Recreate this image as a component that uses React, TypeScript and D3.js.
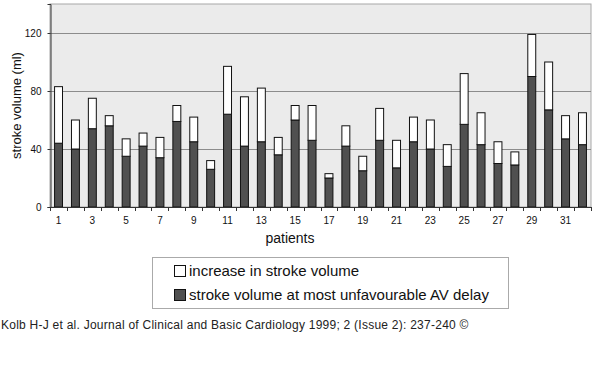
import React, { useEffect, useRef } from 'react';
import * as d3 from 'd3';

// patients 1..32
const patients: number[] = d3.range(1, 33);
// stroke volume at most unfavourable AV delay (ml)
const baseVolume: number[] = [44, 40, 54, 56, 35, 42, 34, 59, 45, 26, 64, 42, 45, 36, 60, 46,
  20, 42, 25, 46, 27, 45, 40, 28, 57, 43, 30, 29, 90, 67, 47, 43];
// increase in stroke volume (ml)
const increaseVolume: number[] = [39, 20, 21, 7, 12, 9, 14, 11, 17, 6, 33, 34, 37, 12, 10, 24,
  3, 14, 10, 22, 19, 17, 20, 15, 35, 22, 15, 9, 29, 33, 16, 22];
const yTicks: number[] = [0, 40, 80, 120];

const FONT = 'Arial, "Liberation Sans", sans-serif';

export default function App() {
  const svgRef = useRef<SVGSVGElement | null>(null);

  useEffect(() => {
    const svg = d3.select(svgRef.current);
    svg.html('');

    const left = 50, right = 591, top = 4, bottom = 207;

    const x = d3.scaleBand<number>().domain(patients).range([left, right]).paddingInner(0.53).paddingOuter(0.27);
    const y = d3.scaleLinear().domain([0, 140]).range([bottom, top]);

    // plot background
    svg.append('rect')
      .attr('x', left).attr('y', top)
      .attr('width', right - left).attr('height', bottom - top)
      .attr('fill', '#ebebeb')
      .attr('stroke', '#a8a8a8').attr('stroke-width', 1);

    // gridlines
    svg.append('g')
      .selectAll('line')
      .data(yTicks.filter(t => t > 0))
      .join('line')
      .attr('x1', left).attr('x2', right)
      .attr('y1', d => Math.round(y(d)) + 0.5).attr('y2', d => Math.round(y(d)) + 0.5)
      .attr('stroke', '#8c8c8c').attr('stroke-width', 1);

    // bars
    const bw = x.bandwidth();
    const g = svg.append('g');
    g.selectAll('rect.base')
      .data(patients)
      .join('rect')
      .attr('class', 'base')
      .attr('x', d => x(d)!)
      .attr('y', (d, i) => y(baseVolume[i]))
      .attr('width', bw)
      .attr('height', (d, i) => bottom - y(baseVolume[i]))
      .attr('fill', '#505050')
      .attr('stroke', '#111').attr('stroke-width', 1);
    g.selectAll('rect.inc')
      .data(patients)
      .join('rect')
      .attr('class', 'inc')
      .attr('x', d => x(d)!)
      .attr('y', (d, i) => y(baseVolume[i] + increaseVolume[i]))
      .attr('width', bw)
      .attr('height', (d, i) => y(baseVolume[i]) - y(baseVolume[i] + increaseVolume[i]))
      .attr('fill', '#ffffff')
      .attr('stroke', '#111').attr('stroke-width', 1);

    // y axis
    const yAxis = svg.append('g')
      .attr('transform', `translate(${left + 0.5},0)`)
      .call(d3.axisLeft(y).tickValues(yTicks).tickSize(3).tickPadding(6));
    yAxis.select('.domain').attr('stroke', '#333');
    yAxis.selectAll('.tick line').attr('stroke', '#333');
    yAxis.selectAll('text').attr('font-family', FONT).attr('font-size', 10).attr('fill', '#111');

    // x axis: ticks at band boundaries, labels on odd patients
    const xg = svg.append('g');
    xg.append('line')
      .attr('x1', left).attr('x2', right)
      .attr('y1', bottom + 0.5).attr('y2', bottom + 0.5)
      .attr('stroke', '#333');
    xg.selectAll('line.tk')
      .data(d3.range(0, patients.length + 1))
      .join('line')
      .attr('class', 'tk')
      .attr('x1', i => Math.round(left + i * (right - left) / patients.length) + 0.5)
      .attr('x2', i => Math.round(left + i * (right - left) / patients.length) + 0.5)
      .attr('y1', bottom).attr('y2', bottom + 4)
      .attr('stroke', '#333');
    xg.selectAll('text')
      .data(patients.filter(p => p % 2 === 1))
      .join('text')
      .attr('x', d => x(d)! + bw / 2)
      .attr('y', bottom + 17)
      .attr('text-anchor', 'middle')
      .attr('font-family', FONT).attr('font-size', 10).attr('fill', '#111')
      .text(d => d);

    // axis titles
    svg.append('text')
      .attr('x', 290).attr('y', 243)
      .attr('text-anchor', 'middle')
      .attr('font-family', FONT).attr('font-size', 14).attr('fill', '#111')
      .text('patients');
    svg.append('text')
      .attr('transform', `translate(21,${(top + bottom) / 2}) rotate(-90)`)
      .attr('text-anchor', 'middle')
      .attr('font-family', FONT).attr('font-size', 13).attr('fill', '#111')
      .text('stroke volume (ml)');

    // legend
    const lg = svg.append('g');
    lg.append('rect')
      .attr('x', 152.5).attr('y', 257.5).attr('width', 356).attr('height', 51)
      .attr('fill', '#fff').attr('stroke', '#aaa');
    const items = [
      { label: 'increase in stroke volume', fill: '#ffffff' },
      { label: 'stroke volume at most unfavourable AV delay', fill: '#505050' },
    ];
    items.forEach((it, i) => {
      const cy = 271 + i * 24;
      lg.append('rect')
        .attr('x', 174.5).attr('y', cy - 5.5).attr('width', 11).attr('height', 11)
        .attr('fill', it.fill).attr('stroke', '#111');
      lg.append('text')
        .attr('x', 189).attr('y', cy + 5)
        .attr('font-family', FONT).attr('font-size', 15).attr('fill', '#111')
        .text(it.label);
    });

    // source
    svg.append('text')
      .attr('x', 1).attr('y', 329)
      .attr('font-family', FONT).attr('font-size', 12).attr('letter-spacing', 0.25).attr('fill', '#222')
      .text('Kolb H-J et al. Journal of Clinical and Basic Cardiology 1999; 2 (Issue 2): 237-240 ©');
  }, []);

  return (
    <svg ref={svgRef} width={600} height={374}
      style={{ position: 'absolute', left: 0, top: 0, background: '#fff' }} />
  );
}
